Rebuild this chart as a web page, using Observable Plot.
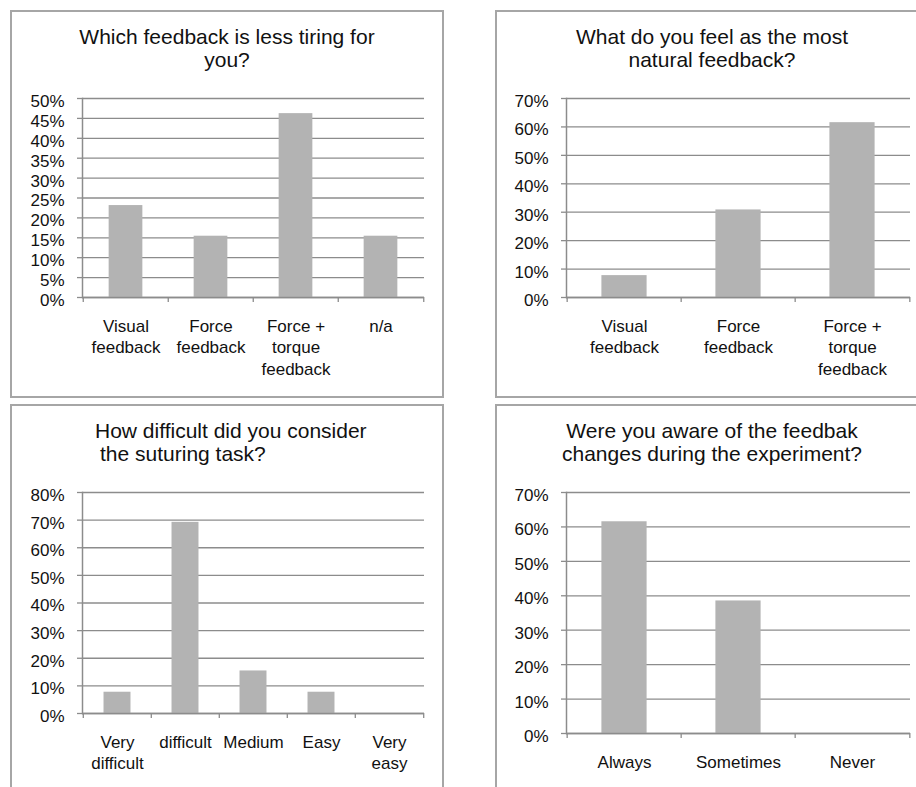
<!DOCTYPE html>
<html>
<head>
<meta charset="utf-8">
<script src="https://cdn.jsdelivr.net/npm/d3@7"></script>
<script src="https://cdn.jsdelivr.net/npm/@observablehq/plot@0.6"></script>
<style>
  body { margin: 0; background: #fff; }
  #page {
    position: relative; width: 916px; height: 787px; overflow: hidden;
    font-family: "Liberation Sans", Arial, sans-serif; color: #111;
  }
  .panel { position: absolute; border: 2px solid #a6a6a6; box-sizing: border-box; }
  .title { position: absolute; font-size: 21px; line-height: 23px; white-space: pre; }
  .chart { position: absolute; }
</style>
</head>
<body>
<div id="page"></div>
<script>
// Survey answers (share of participants) for each question
const tiringCategories = ["Visual\nfeedback", "Force\nfeedback", "Force +\ntorque\nfeedback", "n/a"];
const tiringShares = [0.231, 0.154, 0.462, 0.154];
const tiringTicks = [0, 0.05, 0.10, 0.15, 0.20, 0.25, 0.30, 0.35, 0.40, 0.45, 0.50];

const naturalCategories = ["Visual\nfeedback", "Force\nfeedback", "Force +\ntorque\nfeedback"];
const naturalShares = [0.077, 0.308, 0.615];
const naturalTicks = [0, 0.1, 0.2, 0.3, 0.4, 0.5, 0.6, 0.7];

const difficultyCategories = ["Very\ndifficult", "difficult", "Medium", "Easy", "Very\neasy"];
const difficultyShares = [0.077, 0.692, 0.154, 0.077, 0];
const difficultyTicks = [0, 0.1, 0.2, 0.3, 0.4, 0.5, 0.6, 0.7, 0.8];

const awarenessCategories = ["Always", "Sometimes", "Never"];
const awarenessShares = [0.615, 0.385, 0];
const awarenessTicks = [0, 0.1, 0.2, 0.3, 0.4, 0.5, 0.6, 0.7];

const BAR = "#b3b3b3";
const LINE = "#8c8c8c";
const FONT = "'Liberation Sans', Arial, sans-serif";
const pct = d3.format(".0%");

const page = document.getElementById("page");

function addPanel(box) {
  const div = document.createElement("div");
  div.className = "panel";
  Object.assign(div.style, {left: box.x + "px", top: box.y + "px", width: box.w + "px", height: box.h + "px"});
  page.appendChild(div);
}

function addTitle(lines, pos) {
  const div = document.createElement("div");
  div.className = "title";
  Object.assign(div.style, {left: pos.x + "px", top: pos.y + "px", textAlign: pos.align});
  if (pos.width) div.style.width = pos.width + "px";
  lines.forEach((t, i) => {
    const line = document.createElement("div");
    line.textContent = t;
    if (pos.indent && pos.indent[i]) line.style.marginLeft = pos.indent[i] + "px";
    div.appendChild(line);
  });
  page.appendChild(div);
}

// svg: placement of the SVG; frame: pixel extent of the plotting area
function addBars(categories, shares, ticks, svg, frame, labelPad) {
  const n = categories.length;
  const bw = (frame.x1 - frame.x0) / n;
  const rows = categories.map((c, i) => ({category: c, share: shares[i]}));
  const chart = Plot.plot({
    width: svg.w,
    height: svg.h,
    marginLeft: frame.x0 - svg.x,
    marginRight: svg.x + svg.w - frame.x1,
    marginTop: frame.y0 - svg.y,
    marginBottom: svg.y + svg.h - frame.y1,
    style: {fontFamily: FONT, fontSize: "17px", color: "#111", background: "transparent", overflow: "visible"},
    x: {type: "band", domain: categories, padding: 0, label: null},
    y: {domain: [0, ticks[ticks.length - 1]], label: null},
    marks: [
      Plot.gridY(ticks, {stroke: LINE, strokeOpacity: 1, strokeWidth: 1.3}),
      Plot.barY(rows, {x: "category", y: "share", fill: BAR, insetLeft: bw * 0.3, insetRight: bw * 0.3}),
      Plot.ruleY([0], {stroke: LINE, strokeWidth: 1.5}),
      Plot.frame({anchor: "left", stroke: LINE, strokeWidth: 1.5}),
      Plot.axisY(ticks, {tickSize: 5, tickFormat: () => "", stroke: LINE, strokeWidth: 1.3}),
      Plot.axisY(ticks, {tickSize: 0, tickPadding: 18, tickFormat: pct, dy: 3, fontSize: 17}),
      Plot.axisX(categories, {tickSize: 5, tickFormat: () => "", dx: -bw / 2, stroke: LINE, strokeWidth: 1.3}),
      Plot.axisX([categories[n - 1]], {tickSize: 5, tickFormat: () => "", dx: bw / 2, stroke: LINE, strokeWidth: 1.3}),
      Plot.axisX(categories, {tickSize: 0, tickPadding: labelPad, lineHeight: 1.27, fontSize: 17})
    ]
  });
  chart.classList.add("chart");
  chart.style.left = svg.x + "px";
  chart.style.top = svg.y + "px";
  page.appendChild(chart);
}

// Top left: less tiring feedback
addPanel({x: 10, y: 10, w: 434, h: 388});
addTitle(["Which feedback is less tiring for", "you?"], {x: 10, y: 25, width: 434, align: "center"});
addBars(tiringCategories, tiringShares, tiringTicks,
  {x: 10, y: 80, w: 434, h: 310}, {x0: 82, x1: 424, y0: 98, y1: 297}, 19);

// Top right: most natural feedback
addPanel({x: 495, y: 10, w: 434, h: 388});
addTitle(["What do you feel as the most", "natural feedback?"], {x: 495, y: 25, width: 434, align: "center"});
addBars(naturalCategories, naturalShares, naturalTicks,
  {x: 495, y: 80, w: 434, h: 310}, {x0: 566, x1: 910, y0: 98, y1: 297}, 19);

// Bottom left: difficulty of the suturing task
addPanel({x: 10, y: 404, w: 434, h: 420});
addTitle(["How difficult did you consider", "the suturing task?"], {x: 95, y: 419, align: "left", indent: [0, 5]});
addBars(difficultyCategories, difficultyShares, difficultyTicks,
  {x: 10, y: 474, w: 434, h: 313}, {x0: 82, x1: 424, y0: 492, y1: 713}, 19);

// Bottom right: awareness of feedback changes
addPanel({x: 495, y: 404, w: 434, h: 420});
addTitle(["Were you aware of the feedbak", "changes during the experiment?"], {x: 495, y: 419, width: 434, align: "center"});
addBars(awarenessCategories, awarenessShares, awarenessTicks,
  {x: 495, y: 474, w: 434, h: 313}, {x0: 566, x1: 910, y0: 492, y1: 733}, 19);
</script>
</body>
</html>
